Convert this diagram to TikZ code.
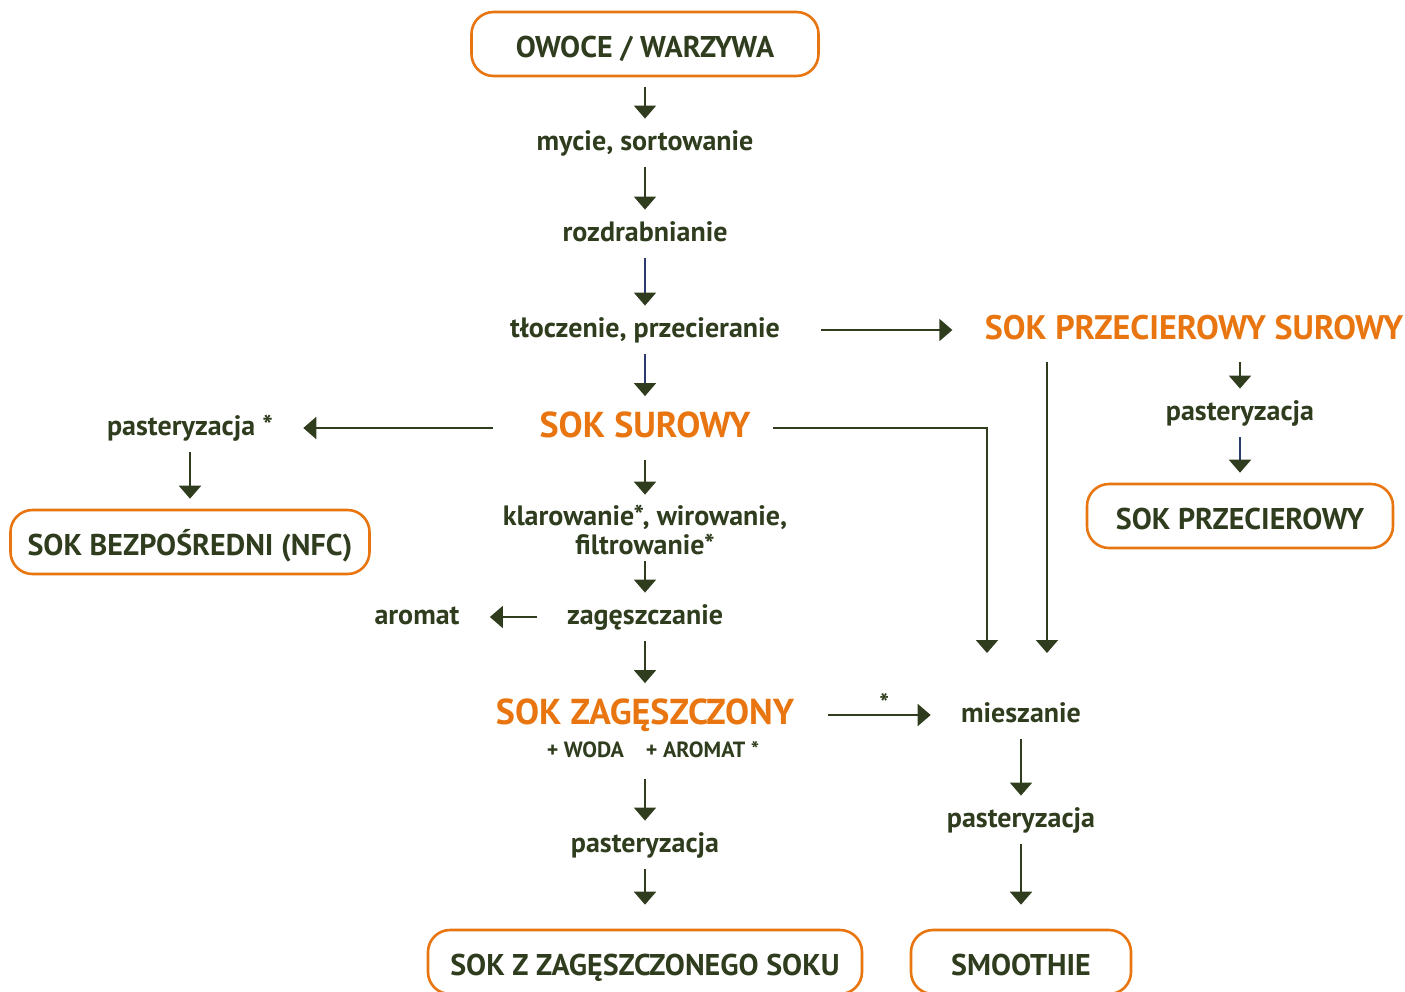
\documentclass[tikz,border=0pt]{standalone}
\usepackage{fontspec}
\setmainfont{PT Sans}
\usepackage{tikz}
\usetikzlibrary{arrows.meta}

\definecolor{zielen}{HTML}{2F3D1E}
\definecolor{pomarancz}{HTML}{E8750F}
\definecolor{granat}{HTML}{2B3A6E}

\tikzset{
  etap/.style = {text=zielen, font=\fontsize{14}{14.5}\selectfont\bfseries,
                 text height=10.5pt, text depth=3.5pt, inner xsep=10pt, inner ysep=0pt},
  produkt/.style = {text=pomarancz, font=\fontsize{18}{20}\selectfont\bfseries,
                 text height=12.5pt, text depth=3pt, inner xsep=6pt, inner ysep=3pt},
  ramka/.style = {draw=pomarancz, line width=1.3pt, rounded corners=11pt, text=zielen,
                 font=\fontsize{15}{17}\selectfont\bfseries, text height=15pt, text depth=1.5pt,
                 minimum height=32pt},
  strzalka/.style = {draw=zielen, line width=1pt, -{Triangle[width=11pt,length=6.5pt]},
                 shorten <=5pt, shorten >=5pt},
  strzalkan/.style = {strzalka, draw=granat, -{Triangle[width=11pt,length=6.5pt,color=zielen]}},
}

\begin{document}
\begin{tikzpicture}[x=0.5pt, y=-0.5pt]
\useasboundingbox (0,0) rectangle (1405,992);

% srodkowa kolumna
\node[ramka, minimum width=173.5pt] (owoce) at (645,44) {OWOCE / WARZYWA};
\node[etap] (mycie) at (645,143) {mycie, sortowanie};
\node[etap] (rozdrabnianie) at (645,234) {rozdrabnianie};
\node[etap] (tloczenie) at (645,330) {tłoczenie, przecieranie};
\node[produkt] (surowy) at (645,428) {SOK SUROWY};
\node[etap, text height=, text depth=, inner ysep=0pt, align=center] (klarowanie) at (645,530) {klarowanie*, wirowanie,\\ filtrowanie*};
\node[etap] (zageszczanie) at (645,617) {zagęszczanie};
\node[etap] (aromat) at (417,617) {aromat};
\node[produkt] (zageszczony) at (645,715) {SOK ZAGĘSZCZONY};
\node[etap, font=\fontsize{11}{12}\selectfont\bfseries, text height=8pt, text depth=2.5pt, inner ysep=3pt] (dodatki) at (653,752) {+ WODA\quad + AROMAT *};
\node[etap] (past) at (645,845) {pasteryzacja};
\node[ramka, minimum width=217pt] (sokzz) at (645,962) {SOK Z ZAGĘSZCZONEGO SOKU};

% lewa strona
\node[etap] (pastnfc) at (190,428) {pasteryzacja *};
\node[ramka, minimum width=179.5pt] (nfc) at (190,542) {SOK BEZPOŚREDNI (NFC)};

% prawa strona
\node[produkt, font=\fontsize{17}{20}\selectfont\bfseries] (przsurowy) at (1194,330) {SOK PRZECIEROWY SUROWY};
\node[etap] (pastprz) at (1240,413) {pasteryzacja};
\node[ramka, minimum width=153pt] (przecierowy) at (1240,516) {SOK PRZECIEROWY};
\node[etap] (mieszanie) at (1021,715) {mieszanie};
\node[etap] (pastsm) at (1021,820) {pasteryzacja};
\node[ramka, minimum width=110pt] (smoothie) at (1021,962) {SMOOTHIE};
\coordinate (wejscie1) at (987,663);
\coordinate (wejscie2) at (1047,663);

% strzalki
\draw[strzalka] (owoce) -- (mycie);
\draw[strzalka] (mycie) -- (rozdrabnianie);
\draw[strzalkan] (rozdrabnianie) -- (tloczenie);
\draw[strzalkan] (tloczenie) -- (surowy);
\draw[strzalka] (surowy) -- (klarowanie);
\draw[strzalka, shorten <=3pt] (klarowanie) -- (zageszczanie);
\draw[strzalka] (zageszczanie) -- (aromat);
\draw[strzalka] (zageszczanie) -- (zageszczony);
\draw[strzalka] (past |- dodatki.south) -- (past);
\draw[strzalka, shorten >=12pt] (past) -- (sokzz);

\draw[strzalka, shorten <=17pt] (surowy) -- (pastnfc);
\draw[strzalka] (pastnfc) -- (nfc);

\draw[strzalka, shorten <=10.5pt, shorten >=10pt] (tloczenie) -- (przsurowy);
\draw[strzalka] (pastprz |- przsurowy.south) -- (pastprz);
\draw[strzalkan] (pastprz) -- (przecierowy);

\draw[strzalka] (surowy) -| (wejscie1);
\draw[strzalka] (wejscie2 |- przsurowy.south) -- (wejscie2);
\draw[strzalka, shorten <=11pt] (zageszczony) -- (mieszanie)
  node[pos=0.58, above, text=zielen, font=\fontsize{13}{14}\selectfont\bfseries, inner sep=1pt] (gw) {*};
\draw[strzalka] (mieszanie) -- (pastsm);
\draw[strzalka, shorten >=12pt] (pastsm) -- (smoothie);
\end{tikzpicture}
\end{document}
